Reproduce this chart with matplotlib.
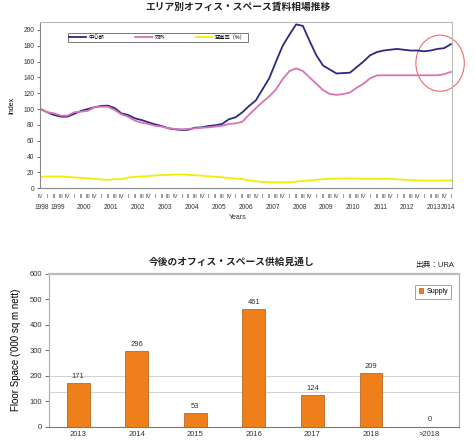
import matplotlib
matplotlib.use("Agg")
import matplotlib.pyplot as plt
from matplotlib.patches import Ellipse
import matplotlib.transforms as mtransforms

plt.rcParams['font.family'] = ['Liberation Sans', 'Noto Sans CJK JP', 'DejaVu Sans']

# ---- top chart data: quarterly, 1998 Q4 .. 2014 Q1 ----
center = [100, 96, 92.6, 90.5, 90.5, 94, 97.7, 100, 102.3, 104,
          104.4, 101.5, 94.7, 92.6, 88.4, 86.3, 83.4, 80.8, 78.7, 75.8,
          74.5, 73.7, 74, 76.6, 77, 78.7, 79.6, 81.3, 87.2, 89.7,
          96, 104, 111, 125, 139, 160, 180, 194, 207, 205,
          186, 168, 155, 150, 145, 145.5, 146, 153, 160, 168,
          172, 174, 175, 176, 175, 174, 174, 173, 174, 176,
          177, 182]
suburb = [100, 96, 94.7, 91.8, 91.8, 96, 96.8, 97.7, 102.3, 103,
          103, 99, 93.5, 90.5, 85.5, 83, 81.3, 79, 78, 75.8,
          75, 74.5, 75, 75.8, 76.6, 77, 78, 79, 81.3, 82,
          84, 93, 101, 109, 116, 125, 138, 148, 151.5, 148,
          140, 132, 124, 119, 118, 119, 121, 127, 132, 139,
          142.5, 142.7, 142.7, 142.7, 142.7, 142.7, 142.7, 142.7, 142.7, 142.7,
          144, 147]
vacancy = [14.5, 15, 15, 15, 14.5, 13.8, 13.3, 12.5, 12, 11,
           10.8, 11.5, 11.5, 13.5, 14.6, 15, 15.5, 16.2, 16.7, 17,
           17.3, 17.5, 17, 16.5, 16, 15.2, 14.6, 14, 12.8, 12.3,
           11.7, 10, 9, 8, 7.7, 7.5, 7.5, 7.6, 8.5, 9.3,
           10, 10.8, 11.5, 12, 12.2, 12.4, 12.5, 12.3, 12, 12,
           12, 12, 12, 11.3, 11, 10.5, 10, 9.8, 9.6, 9.7,
           10, 10]
romans = ['I', 'II', 'III', 'IV']
years = list(range(1998, 2015))
series_names = ['中心部', '郊外', '空室率（%）']

# ---- bottom chart data ----
supply_years = ['2013', '2014', '2015', '2016', '2017', '2018', '>2018']
supply = [171, 296, 53, 461, 124, 209, 0]

fig = plt.figure(figsize=(4.75, 4.4), dpi=100)

# ================= top chart =================
ax = fig.add_axes([0.084, 0.572, 0.868, 0.378])
n = len(center)
xs = list(range(n))
ax.plot(xs, center, color='#2B2A80', lw=1.3, label=series_names[0])
ax.plot(xs, suburb, color='#D873B5', lw=1.3, label=series_names[1])
ax.plot(xs, vacancy, color='#F2EE00', lw=1.3, label=series_names[2])
ax.set_xlim(-0.1, 61.2)
ax.set_ylim(0, 210)
ax.set_yticks(range(0, 201, 20))
ax.tick_params(axis='y', labelsize=4.8, length=2, width=0.5, colors='#333333', pad=2)
ax.set_ylabel('Index', fontsize=5, labelpad=6)

qlabels = [romans[(3 + i) % 4] for i in xs]
ax.set_xticks(xs)
ax.set_xticklabels(qlabels, fontsize=4.2, color='#444444')
ax.tick_params(axis='x', length=0, pad=4)
trans = mtransforms.blended_transform_factory(ax.transData, ax.transAxes)
for y in years:
    if y == 1998:
        xpos = 0.2
    elif y == 2014:
        xpos = 60.6
    else:
        xpos = 1 + (y - 1999) * 4 + 1.5
    ax.text(xpos, -0.115, str(y), transform=trans, fontsize=4.8,
            ha='center', va='center', color='#333333')
ax.text(0.48, -0.175, 'Years', transform=ax.transAxes, fontsize=5,
        ha='center', va='center', color='#333333')
for sp in ax.spines.values():
    sp.set_color('#BBBBBB')
    sp.set_linewidth(0.8)
ax.spines['left'].set_color('#888888')
ax.spines['bottom'].set_color('#888888')

leg = ax.legend(loc='lower left', bbox_to_anchor=(0.061, 0.865, 0.449, 0.075),
                mode='expand', ncol=3, fontsize=3.8, frameon=True, fancybox=False,
                handlelength=3.2, borderpad=0.3, handletextpad=0.5)
leg.get_frame().set_edgecolor('#555555')
leg.get_frame().set_linewidth(0.7)

ell = Ellipse((59.4, 158), 7.2, 71, fill=False, edgecolor='#EE6B6B', lw=0.8,
              clip_on=False)
ax.add_patch(ell)

fig.text(0.5, 0.985, 'エリア別オフィス・スペース賃料相場推移', ha='center',
         va='center', fontsize=7, fontweight='bold', color='#222222')

# ================= bottom chart =================
bx = fig.add_axes([0.103, 0.03, 0.863, 0.348])
bpos = list(range(len(supply)))
bx.bar(bpos, supply, width=0.39, color='#EE7F1A', edgecolor='#B86A2A',
       linewidth=0.6, label='Supply', zorder=3)
for x, v in zip(bpos, supply):
    bx.text(x, v + 14, str(v), ha='center', va='bottom', fontsize=5.5,
            color='#333333')
bx.set_xlim(-0.5, 6.5)
bx.set_ylim(0, 600)
bx.set_yticks(range(0, 601, 100))
bx.set_xticks(bpos)
bx.set_xticklabels(supply_years, fontsize=5.5, color='#333333')
bx.tick_params(axis='x', length=0, pad=3)
bx.tick_params(axis='y', labelsize=5.5, length=3, width=0.5, colors='#333333', pad=2)
bx.axhline(200, color='#CCCCCC', lw=0.6, zorder=1)
bx.axhline(135, color='#CCCCCC', lw=0.6, zorder=1)
bx.set_ylabel("Floor Space ('000 sq m nett)", fontsize=7, labelpad=6)
for sp in bx.spines.values():
    sp.set_color('#AAAAAA')
    sp.set_linewidth(0.8)
bx.spines['top'].set_linewidth(1.6)
bx.spines['top'].set_color('#BBBBBB')
bx.spines['bottom'].set_color('#777777')

bleg = bx.legend(loc='upper right', bbox_to_anchor=(0.99, 0.95), fontsize=5,
                 frameon=True, fancybox=False, handlelength=0.7, handleheight=0.7,
                 borderpad=0.5, handletextpad=0.4)
bleg.get_frame().set_edgecolor('#777777')
bleg.get_frame().set_linewidth(0.6)

fig.text(0.488, 0.405, '今後のオフィス・スペース供給見通し', ha='center',
         va='center', fontsize=7, fontweight='bold', color='#222222')
fig.text(0.915, 0.397, '出典：URA', ha='center', va='center', fontsize=5.5,
         color='#222222')

fig.savefig('out.png', dpi=100)
